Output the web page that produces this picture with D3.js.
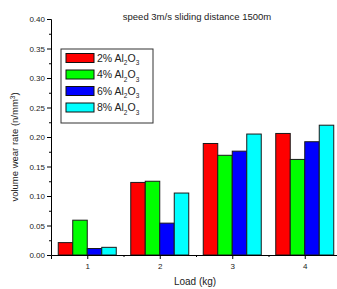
<!DOCTYPE html>
<html><head><meta charset="utf-8">
<script src="https://cdn.jsdelivr.net/npm/d3@7"></script>
<style>body{margin:0;background:#fff;}svg{display:block;font-family:"Liberation Sans",Arial,sans-serif;}</style>
</head><body>
<svg id="c" width="337" height="289"></svg>
<script>
const categories = [1, 2, 3, 4];
const seriesNames = ["2%", "4%", "6%", "8%"];
const seriesColors = ["#ff0000", "#00ff00", "#0000ff", "#00ffff"];
const s2 = [0.021, 0.123, 0.189, 0.206];
const s4 = [0.059, 0.125, 0.169, 0.162];
const s6 = [0.011, 0.054, 0.176, 0.192];
const s8 = [0.013, 0.105, 0.205, 0.220];
const seriesValues = [s2, s4, s6, s8];
const yTicks = [0, 0.05, 0.10, 0.15, 0.20, 0.25, 0.30, 0.35, 0.40];
const title = "speed 3m/s sliding distance 1500m";
const xTitle = "Load (kg)";

const svg = d3.select("#c");
const mLeft = 51, mBottom = 255, mTop = 19, mRight = 341;
const x = d3.scaleLinear().domain([0.5, 4.5]).range([mLeft, mRight]);
const y = d3.scaleLinear().domain([0, 0.4]).range([mBottom, mTop]);
const groupW = 0.8;
const bx = d3.scaleBand().domain(d3.range(4)).range([-groupW/2, groupW/2]).padding(0);

// bars
seriesValues.forEach((vals, si) => {
  svg.append("g").selectAll("rect").data(vals).join("rect")
    .attr("x", (d, i) => x(categories[i] + bx(si)))
    .attr("y", d => y(d))
    .attr("width", x(bx.bandwidth()) - x(0))
    .attr("height", d => y(0) - y(d))
    .attr("fill", seriesColors[si])
    .attr("stroke", "#1a1a1a").attr("stroke-width", 1);
});

// y axis
const yAxis = d3.axisLeft(y).tickValues(yTicks).tickFormat(d3.format(".2f")).tickSize(4).tickPadding(2);
const gy = svg.append("g").attr("transform", `translate(${mLeft},0)`).call(yAxis);
gy.selectAll("text").attr("font-size", 8).attr("fill", "#222");
const yMinor = d3.range(0.025, 0.4, 0.05);
svg.append("g").attr("transform", `translate(${mLeft},0)`)
  .call(d3.axisLeft(y).tickValues(yMinor).tickSize(2).tickFormat(""))
  .select(".domain").remove();

// x axis
const xAxis = d3.axisBottom(x).tickValues(categories).tickFormat(d3.format("d")).tickSize(4).tickPadding(4);
const gx = svg.append("g").attr("transform", `translate(0,${mBottom})`).call(xAxis);
gx.selectAll("text").attr("font-size", 8).attr("fill", "#222");
svg.append("g").attr("transform", `translate(0,${mBottom})`)
  .call(d3.axisBottom(x).tickValues([1.5, 2.5, 3.5]).tickSize(2).tickFormat(""))
  .select(".domain").remove();

// titles
svg.append("text").attr("x", 197).attr("y", 20).attr("text-anchor", "middle")
  .attr("font-size", 9.5).attr("fill", "#222").text(title);
svg.append("text").attr("x", 195).attr("y", 285).attr("text-anchor", "middle")
  .attr("font-size", 10).attr("fill", "#222").text(xTitle);
const yl = svg.append("text").attr("transform", `translate(18,147) rotate(-90)`)
  .attr("text-anchor", "middle").attr("font-size", 9.5).attr("fill", "#222");
yl.append("tspan").text("volume wear rate (n/mm");
yl.append("tspan").attr("dy", -3.5).attr("font-size", 6.5).text("3");
yl.append("tspan").attr("dy", 3.5).text(")");

// legend
const lg = svg.append("g");
lg.append("rect").attr("x", 61).attr("y", 49).attr("width", 92).attr("height", 74)
  .attr("fill", "#fff").attr("stroke", "#333").attr("stroke-width", 1);
seriesNames.forEach((n, i) => {
  const cy = 58 + i * 16.5;
  lg.append("rect").attr("x", 66).attr("y", cy - 4.5).attr("width", 28).attr("height", 9)
    .attr("fill", seriesColors[i]).attr("stroke", "#111").attr("stroke-width", 1);
  const t = lg.append("text").attr("x", 97).attr("y", cy + 3.5).attr("font-size", 10.5).attr("fill", "#222");
  t.append("tspan").text(n + " Al");
  t.append("tspan").attr("dy", 3.5).attr("font-size", 6.5).text("2");
  t.append("tspan").attr("dy", -3.5).text("O");
  t.append("tspan").attr("dy", 3.5).attr("font-size", 6.5).text("3");
});
</script>
</body></html>
